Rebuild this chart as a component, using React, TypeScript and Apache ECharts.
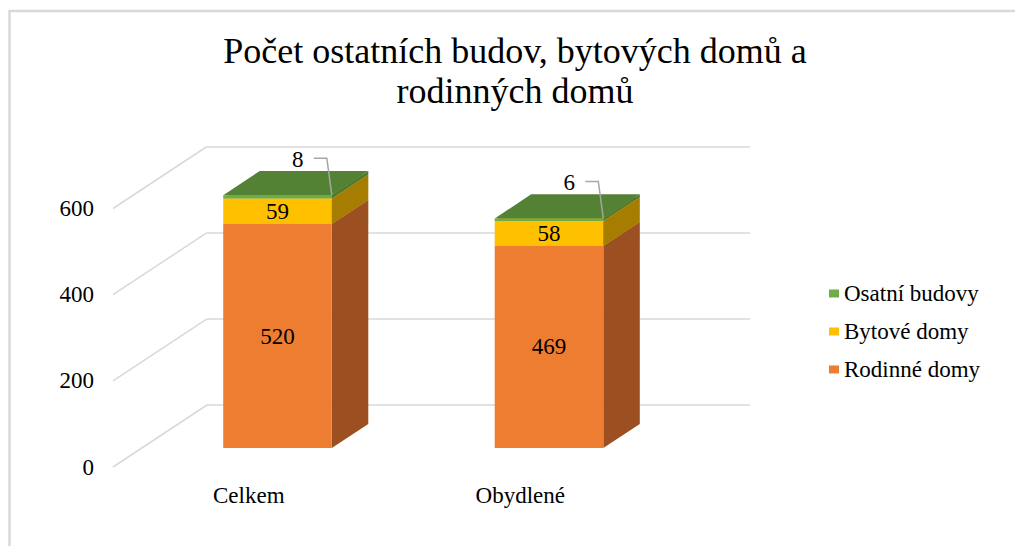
import React, { useEffect, useRef } from 'react';
import * as echarts from 'echarts';

// ---- data ----
const TITLE_LINES = ['Počet ostatních budov, bytových domů a', 'rodinných domů'];
const CATEGORIES = ['Celkem', 'Obydlené'];
const RODINNE_DOMY = [520, 469];
const BYTOVE_DOMY = [59, 58];
const OSTATNI_BUDOVY = [8, 6];
const SERIES_NAMES = ['Rodinné domy', 'Bytové domy', 'Osatní budovy'];
const LEGEND_ORDER = ['Osatní budovy', 'Bytové domy', 'Rodinné domy'];
const Y_TICKS = [0, 200, 400, 600];
const Y_MIN = 0;
const Y_MAX = 600;
const Y_INTERVAL = 200;

// ---- layout / style ----
const FRONT_LEFT = 113;
const PLOT_W = 543;
const FRONT_TOP = 208.5;
const PLOT_H = 258.5;
const DEPTH_X = 94;
const DEPTH_Y = -62;
const D0 = 0.306;
const D1 = 0.694;
const BAR_RATIO = 0.4;
const FONT = '"Liberation Serif", "Times New Roman", serif';
const GRID_COLOR = '#d9d9d9';
const LABEL_SIZE = 23;
const FACE_COLORS = [
  { front: '#ED7D31', side: '#9C5021', top: '#BE6428' },
  { front: '#FFC000', side: '#A67D00', top: '#CC9A00' },
  { front: '#70AD47', side: '#4A7A2F', top: '#548235' },
];

const LAYERS = [RODINNE_DOMY, BYTOVE_DOMY, OSTATNI_BUDOVY];
const STACK_DATA = LAYERS.map((vals, li) =>
  vals.map((v, ci) => {
    let base = 0;
    for (let k = 0; k < li; k++) base += LAYERS[k][ci];
    return [ci, base, base + v, v];
  })
);

function makeBarRender(li: number) {
  return (params: any, api: any) => {
    const ci = api.value(0);
    const base = api.value(1);
    const top = api.value(2);
    const raw = api.value(3);
    const pB = api.coord([ci, base]);
    const pT = api.coord([ci, top]);
    const band = api.size([1, 0])[0];
    const w = band * BAR_RATIO;
    const x0 = pB[0] + DEPTH_X * D0 - w / 2;
    const x1 = x0 + w;
    const yB = pB[1] + DEPTH_Y * D0;
    const yT = pT[1] + DEPTH_Y * D0;
    const dx = DEPTH_X * (D1 - D0);
    const dy = DEPTH_Y * (D1 - D0);
    const c = FACE_COLORS[li];
    const children: any[] = [
      {
        type: 'polygon',
        shape: { points: [[x1, yB], [x1, yT], [x1 + dx, yT + dy], [x1 + dx, yB + dy]] },
        style: { fill: c.side },
      },
      {
        type: 'polygon',
        shape: { points: [[x0, yT], [x1, yT], [x1 + dx, yT + dy], [x0 + dx, yT + dy]] },
        style: { fill: c.top },
      },
      {
        type: 'rect',
        shape: { x: x0, y: yT, width: w, height: yB - yT },
        style: { fill: c.front },
      },
    ];
    if (li < LAYERS.length - 1) {
      children.push({
        type: 'text',
        x: (x0 + x1) / 2,
        y: (yT + yB) / 2,
        style: {
          text: String(raw),
          fill: '#000',
          fontSize: LABEL_SIZE,
          fontFamily: FONT,
          align: 'center',
          verticalAlign: 'middle',
        },
      });
    } else {
      children.push({
        type: 'polyline',
        shape: { points: [[x1 - 18, yT - 37], [x1 - 5, yT - 37], [x1, yT]] },
        style: { stroke: '#a6a6a6', lineWidth: 1.5, fill: 'none' },
      });
      children.push({
        type: 'text',
        x: x1 - 34,
        y: yT - 36,
        style: {
          text: String(raw),
          fill: '#000',
          fontSize: LABEL_SIZE,
          fontFamily: FONT,
          align: 'center',
          verticalAlign: 'middle',
        },
      });
    }
    return { type: 'group', children };
  };
}

function gridDiagonalRender(params: any, api: any) {
  const y = api.coord([0, api.value(1)])[1];
  const x = params.coordSys.x;
  return {
    type: 'line',
    shape: { x1: x, y1: y, x2: x + DEPTH_X, y2: y + DEPTH_Y },
    style: { stroke: GRID_COLOR, lineWidth: 1.5 },
  };
}

export default function App() {
  const ref = useRef<HTMLDivElement>(null);
  useEffect(() => {
    if (!ref.current) return;
    const chart = echarts.init(ref.current, null, { renderer: 'svg' });
    const option: any = {
      animation: false,
      backgroundColor: '#ffffff',
      title: {
        text: TITLE_LINES.join('\n'),
        left: 515,
        top: 31,
        padding: 0,
        textAlign: 'center',
        textStyle: {
          fontFamily: FONT,
          fontSize: 36,
          fontWeight: 'normal',
          color: '#000',
          lineHeight: 40,
        },
      },
      legend: {
        data: LEGEND_ORDER,
        orient: 'vertical',
        left: 829,
        top: 282,
        padding: 0,
        itemWidth: 10,
        itemHeight: 8,
        itemGap: 15,
        icon: 'rect',
        selectedMode: false,
        textStyle: { fontFamily: FONT, fontSize: 23, color: '#000', lineHeight: 23 },
      },
      graphic: [
        {
          type: 'rect',
          z: -10,
          shape: { x: 9.5, y: 11, width: 1200, height: 700 },
          style: { fill: 'none', stroke: GRID_COLOR, lineWidth: 2.5 },
          silent: true,
        },
      ],
      grid: [
        { left: FRONT_LEFT, top: FRONT_TOP, width: PLOT_W, height: PLOT_H },
        { left: FRONT_LEFT + DEPTH_X, top: FRONT_TOP + DEPTH_Y, width: PLOT_W, height: PLOT_H },
      ],
      xAxis: [
        {
          type: 'category',
          gridIndex: 0,
          data: CATEGORIES,
          axisLine: { show: false },
          axisTick: { show: false },
          axisLabel: { fontFamily: FONT, fontSize: LABEL_SIZE, color: '#000', margin: 17 },
        },
        { type: 'category', gridIndex: 1, data: CATEGORIES, show: false },
      ],
      yAxis: [
        {
          type: 'value',
          gridIndex: 0,
          min: Y_MIN,
          max: Y_MAX,
          interval: Y_INTERVAL,
          axisLine: { show: false },
          axisTick: { show: false },
          splitLine: { show: false },
          axisLabel: { fontFamily: FONT, fontSize: LABEL_SIZE, color: '#000', margin: 19 },
        },
        {
          type: 'value',
          gridIndex: 1,
          min: Y_MIN,
          max: Y_MAX,
          interval: Y_INTERVAL,
          axisLine: { show: false },
          axisTick: { show: false },
          axisLabel: { show: false },
          splitLine: { show: true, lineStyle: { color: GRID_COLOR, width: 1.5 } },
        },
      ],
      series: [
        {
          type: 'custom',
          name: 'gridDiagonals',
          xAxisIndex: 0,
          yAxisIndex: 0,
          silent: true,
          clip: false,
          z: 1,
          renderItem: gridDiagonalRender,
          data: Y_TICKS.map((v) => [0, v]),
        },
        ...SERIES_NAMES.map((name, li) => ({
          type: 'custom',
          name,
          xAxisIndex: 0,
          yAxisIndex: 0,
          clip: false,
          z: 2 + li,
          itemStyle: { color: FACE_COLORS[li].front },
          renderItem: makeBarRender(li),
          encode: { x: 0, y: [1, 2] },
          data: STACK_DATA[li],
        })),
      ],
    };
    chart.setOption(option);
    return () => chart.dispose();
  }, []);
  return (
    <div
      ref={ref}
      style={{ position: 'absolute', left: 0, top: 0, width: 1015, height: 546, background: '#fff' }}
    />
  );
}
